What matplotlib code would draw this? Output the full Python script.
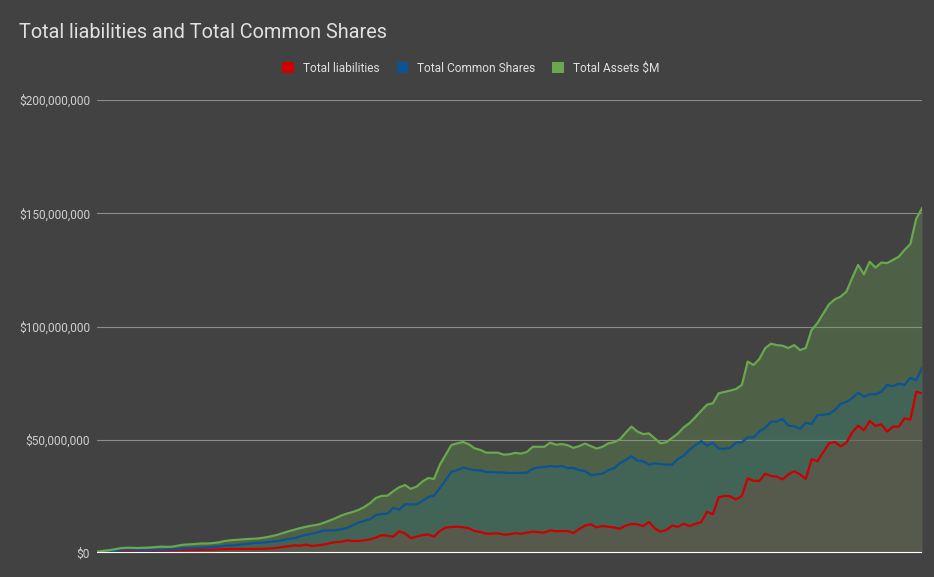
import matplotlib
matplotlib.use("Agg")
import matplotlib.pyplot as plt
from matplotlib.patches import Patch
from matplotlib.ticker import FuncFormatter

# 値は百万ドル単位
liabilities = [0.0, 0.0, 0.1, 0.3, 0.4, 0.6, 0.6, 0.6, 0.6, 0.7,
               0.8, 0.9, 1.0, 1.1, 1.2, 1.2, 1.3, 1.3, 1.4, 1.4,
               1.5, 1.6, 1.7, 1.8, 1.8, 1.8, 1.8, 1.8, 1.8, 1.9,
               2.0, 2.3, 2.7, 3.0, 3.4, 3.2, 3.7, 3.1, 3.4, 3.7,
               4.3, 4.8, 4.9, 5.6, 5.3, 5.3, 5.6, 6.0, 6.8, 7.9,
               7.6, 7.2, 9.6, 8.7, 6.6, 7.2, 7.9, 8.2, 7.2, 9.7,
               11.2, 11.5, 11.6, 11.4, 10.9, 9.7, 9.3, 8.5, 8.6, 8.7,
               8.1, 8.2, 8.8, 8.5, 9.0, 9.4, 9.2, 9.0, 10.0, 9.6,
               9.7, 9.7, 8.8, 10.6, 12.1, 12.7, 11.3, 11.9, 11.6, 11.3,
               10.7, 12.1, 12.8, 12.7, 11.9, 13.7, 10.9, 9.4, 10.2, 12.1,
               11.6, 12.9, 11.9, 12.9, 13.7, 18.2, 17.1, 24.6, 25.2, 25.0,
               23.6, 25.2, 33.0, 31.9, 31.8, 35.0, 34.0, 33.7, 32.5, 34.7,
               36.1, 34.7, 32.7, 41.4, 40.5, 44.5, 48.4, 49.0, 47.1, 48.7,
               53.3, 56.2, 54.2, 58.3, 56.1, 56.8, 53.6, 55.8, 55.8, 59.5,
               58.9, 71.2, 70.5]

common_shares = [0.1, 0.2, 0.3, 0.7, 1.3, 1.5, 1.4, 1.2, 1.2, 1.3,
                 1.3, 1.3, 1.5, 1.6, 1.8, 2.1, 2.1, 2.2, 2.3, 2.5,
                 2.7, 2.8, 3.2, 3.3, 3.5, 3.8, 4.0, 4.4, 4.5, 4.7,
                 5.0, 5.2, 5.7, 6.3, 6.5, 7.4, 8.0, 8.6, 9.1, 9.9,
                 10.0, 10.0, 10.5, 11.0, 12.2, 13.4, 14.2, 14.9, 16.8, 17.2,
                 17.4, 19.9, 19.1, 21.5, 21.5, 21.5, 23.0, 24.7, 25.3, 28.6,
                 32.2, 35.9, 36.5, 37.7, 37.1, 36.6, 36.5, 35.8, 35.7, 35.6,
                 35.5, 35.3, 35.3, 35.4, 35.5, 37.2, 37.8, 38.0, 38.4, 38.1,
                 38.4, 37.5, 37.5, 36.6, 36.2, 34.4, 34.7, 35.0, 36.6, 37.5,
                 39.6, 41.1, 42.7, 40.8, 40.5, 39.0, 39.6, 39.2, 39.0, 39.0,
                 41.5, 43.0, 45.6, 47.6, 49.4, 47.4, 48.7, 46.1, 46.0, 46.5,
                 48.8, 48.9, 51.1, 51.1, 53.6, 55.3, 58.0, 58.0, 59.2, 56.2,
                 56.0, 54.9, 57.5, 57.0, 60.9, 61.0, 61.4, 63.1, 65.9, 66.7,
                 68.4, 70.8, 69.0, 70.1, 70.1, 71.2, 74.2, 73.6, 74.8, 74.2,
                 77.4, 76.2, 81.8]

total_assets = [0.6, 0.9, 1.2, 1.6, 2.1, 2.3, 2.3, 2.2, 2.3, 2.4,
                2.6, 2.8, 2.7, 2.8, 3.3, 3.7, 3.8, 4.0, 4.2, 4.2,
                4.4, 4.7, 5.3, 5.6, 5.8, 6.0, 6.2, 6.3, 6.5, 6.9,
                7.4, 8.0, 8.8, 9.6, 10.3, 11.0, 11.6, 12.1, 12.5, 13.3,
                14.3, 15.3, 16.5, 17.4, 18.1, 19.0, 20.3, 22.0, 24.3, 25.2,
                25.3, 27.3, 29.0, 30.0, 28.3, 29.3, 31.5, 33.1, 32.7, 38.9,
                43.3, 47.7, 48.4, 49.0, 48.0, 46.2, 45.5, 44.3, 44.3, 44.3,
                43.4, 43.6, 44.2, 43.9, 44.6, 46.9, 46.9, 46.9, 48.7, 47.8,
                48.1, 47.6, 46.4, 47.2, 48.3, 47.2, 46.1, 46.9, 48.4, 48.9,
                50.2, 53.1, 55.8, 53.6, 52.5, 52.8, 50.6, 48.4, 48.9, 50.8,
                52.8, 55.5, 57.4, 60.0, 62.8, 65.5, 66.1, 70.5, 71.1, 71.7,
                72.4, 74.2, 84.5, 83.0, 85.6, 90.4, 92.4, 91.8, 91.5, 90.5,
                91.8, 89.6, 90.5, 98.5, 101.5, 105.7, 109.8, 112.0, 113.2, 115.4,
                121.5, 127.2, 123.0, 128.6, 126.0, 128.2, 128.0, 129.4, 130.8, 133.8,
                136.4, 147.5, 152.2]

series_names = ["Total liabilities", "Total Common Shares", "Total Assets $M"]
series_colors = ["#cc0000", "#0b5394", "#6aa84f"]
y_ticks = [0, 50, 100, 150, 200]

BG = "#424242"
TEXT = "#e0e0e0"
plt.rcParams["font.family"] = ["Roboto", "DejaVu Sans"]


def draw_graph():
    fig = plt.figure(figsize=(9.34, 5.77), dpi=100, facecolor=BG)
    ax = fig.add_axes([97 / 934, 24 / 577, 825 / 934, 453 / 577])
    ax.set_facecolor(BG)

    x = list(range(len(total_assets)))
    all_series = [liabilities, common_shares, total_assets]

    # 面（透明度0.3）
    for values, color in zip(all_series, series_colors):
        ax.fill_between(x, 0, [v * 1e6 for v in values], color=color,
                        alpha=0.3, linewidth=0, zorder=2)
    # 折れ線
    for values, color in zip(all_series, series_colors):
        ax.plot(x, [v * 1e6 for v in values], color=color, linewidth=1.6,
                solid_joinstyle="round", zorder=4)

    # 軸とグリッド
    ax.set_xlim(0, len(x) - 1)
    ax.set_ylim(0, 200e6)
    ax.set_yticks([t * 1e6 for t in y_ticks])
    ax.yaxis.set_major_formatter(FuncFormatter(lambda v, p: "${:,.0f}".format(v)))
    ax.set_xticks([])
    ax.grid(axis="y", color="#8c8c8c", linewidth=0.8, zorder=1)
    ax.axhline(0, color="white", linewidth=1.5, zorder=5)
    for sp in ax.spines.values():
        sp.set_visible(False)
    ax.tick_params(axis="y", length=0, pad=5, labelsize=8.6, labelcolor="#d0d0d0")

    # タイトルと凡例
    fig.text(19 / 934, 1 - 32 / 577, "Total liabilities and Total Common Shares",
             fontsize=14.3, color=TEXT, va="center", ha="left")
    handles = [Patch(facecolor=c, edgecolor="none") for c in series_colors]
    leg = fig.legend(handles, series_names, loc="center",
                     bbox_to_anchor=(471 / 934, 1 - 68 / 577), ncol=3,
                     frameon=False, fontsize=8.6, handlelength=1.0,
                     handleheight=1.0, handletextpad=0.75, columnspacing=1.4)
    for t in leg.get_texts():
        t.set_color(TEXT)

    fig.savefig("out.png", dpi=100, facecolor=BG)
    plt.close(fig)


draw_graph()
